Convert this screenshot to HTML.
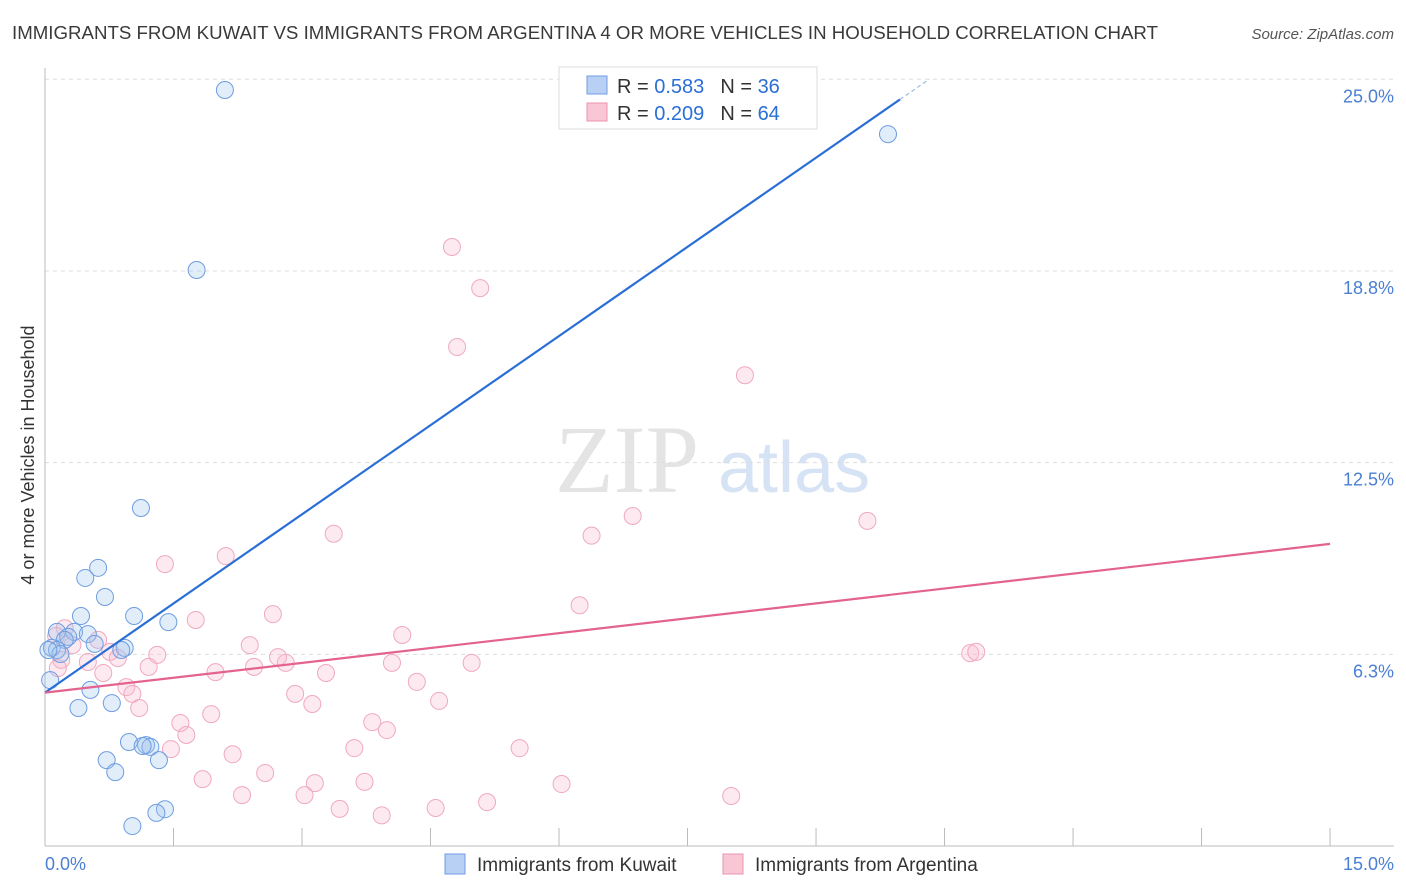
<!DOCTYPE html>
<html><head><meta charset="utf-8"><style>
body{margin:0;background:#fff;font-family:"Liberation Sans",sans-serif;}
</style></head><body>
<svg id="chart" width="1406" height="892" style="display:block">
<text x="12" y="39" font-size="18" fill="#3a3a3a" textLength="1146" lengthAdjust="spacingAndGlyphs">IMMIGRANTS FROM KUWAIT VS IMMIGRANTS FROM ARGENTINA 4 OR MORE VEHICLES IN HOUSEHOLD CORRELATION CHART</text>
<text x="1394" y="39" font-size="15" fill="#555" font-style="italic" text-anchor="end">Source: ZipAtlas.com</text>
<text x="555" y="492" font-size="96" fill="#e4e4e4" font-family="Liberation Serif">ZIP</text>
<text x="718" y="492" font-size="72" fill="#d6e3f5">atlas</text>
<g id="grid"></g>
<g id="axes"></g>
<g id="pts"></g>
<g id="lines"></g>
<text transform="translate(34,455) rotate(-90)" font-size="18" fill="#333" text-anchor="middle">4 or more Vehicles in Household</text>
<text x="45" y="870" font-size="18" fill="#4a7fd4">0.0%</text>
<text x="1394" y="870" font-size="18" fill="#4a7fd4" text-anchor="end">15.0%</text>
<g>
<rect x="559" y="67" width="258" height="62" fill="#fff" stroke="#ddd"/>
<rect x="587" y="76" width="20" height="18" fill="#b8d0f3" stroke="#6f9de0"/>
<rect x="587" y="103" width="20" height="18" fill="#f9c6d5" stroke="#ea94ad"/>
<text x="617" y="93" font-size="20" fill="#333">R = <tspan fill="#2a6fd6">0.583</tspan><tspan dx="16">N = </tspan><tspan fill="#2a6fd6">36</tspan></text>
<text x="617" y="120" font-size="20" fill="#333">R = <tspan fill="#2a6fd6">0.209</tspan><tspan dx="16">N = </tspan><tspan fill="#2a6fd6">64</tspan></text>
</g>
<g>
<rect x="445" y="854" width="20" height="20" fill="#b8d0f3" stroke="#6f9de0"/>
<text x="477" y="871" font-size="19" fill="#333">Immigrants from Kuwait</text>
<rect x="723" y="854" width="20" height="20" fill="#f9c6d5" stroke="#ea94ad"/>
<text x="755" y="871" font-size="19" fill="#333">Immigrants from Argentina</text>
</g>
</svg>
<script>
const yTicks=[6.25,12.5,18.75,25];
const yTickLabels=["6.3%","12.5%","18.8%","25.0%"];
const xTicks=[0,1.5,3,4.5,6,7.5,9,10.5,12,13.5,15];
const kuwaitX=[2.1,9.84,1.77,1.12,0.62,0.47,0.7,1.04,0.42,1.44,0.14,0.34,0.5,0.27,0.23,0.58,0.93,0.89,0.08,0.14,0.18,0.06,0.53,0.78,0.39,0.98,1.18,1.23,1.14,0.72,1.33,0.82,1.4,1.3,1.02,0.04];
const kuwaitY=[24.65,23.21,18.78,11.02,9.07,8.74,8.12,7.5,7.5,7.3,6.98,6.98,6.91,6.82,6.72,6.59,6.46,6.39,6.46,6.39,6.26,5.41,5.09,4.66,4.5,3.39,3.29,3.23,3.26,2.8,2.8,2.41,1.2,1.08,0.65,6.39];
const argX=[4.75,5.08,4.81,8.17,6.86,9.6,3.37,6.38,2.11,1.4,6.24,2.66,1.76,4.17,2.39,1.31,0.23,0.13,0.62,0.32,0.76,0.85,0.19,0.5,1.21,0.15,1.99,2.44,2.81,2.72,3.28,4.05,4.98,10.8,10.87,0.68,0.95,1.02,2.92,4.34,3.12,4.6,1.1,1.94,1.58,1.65,3.82,3.99,1.47,3.61,5.54,2.19,2.57,1.84,3.15,3.73,2.3,3.03,6.03,5.16,3.44,4.56,3.93,8.01];
const argY=[19.53,18.19,16.27,15.35,10.76,10.6,10.18,10.12,9.45,9.19,7.85,7.56,7.37,6.88,6.55,6.23,7.1,6.85,6.72,6.55,6.33,6.13,6.07,6.0,5.84,5.8,5.67,5.84,5.97,6.16,5.64,5.97,5.97,6.29,6.33,5.64,5.18,4.96,4.96,5.35,4.63,4.73,4.5,4.3,4.01,3.62,4.04,3.78,3.16,3.19,3.19,2.99,2.38,2.18,2.05,2.09,1.66,1.66,2.02,1.43,1.21,1.24,1.0,1.63];
const blueLine=[[0,5.0],[10.32,25]];
const pinkLine=[[0,5.0],[15,9.85]];
const X=v=>45+v*85.67, Y=v=>846-v*30.67;
const NS="http://www.w3.org/2000/svg";
function mk(t,a,p){const e=document.createElementNS(NS,t);for(const k in a)e.setAttribute(k,a[k]);document.getElementById(p).appendChild(e);return e;}
yTicks.forEach((v,i)=>{
 const l=mk('line',{x1:45,x2:1394,y1:Y(v),y2:Y(v),stroke:'#ddd','stroke-dasharray':'4,4'},'grid');
 
 
 const t=mk('text',{x:1394,y:Y(v)+23,'font-size':18,fill:'#4a7fd4','text-anchor':'end'},'grid');
 t.textContent=yTickLabels[i];
 
 
});
const ya=mk('line',{x1:45,x2:45,y1:68,y2:846,stroke:'#bbb'},'axes');


const xa=mk('line',{x1:45,x2:1394,y1:846,y2:846,stroke:'#bbb'},'axes');


xTicks.forEach(v=>{
 const l=mk('line',{x1:X(v),x2:X(v),y1:828,y2:846,stroke:'#bbb'},'axes');
 
 
});
argX.forEach((v,i)=>{
 const c=mk('circle',{cx:X(v),cy:Y(argY[i]),r:8.5,fill:'rgba(248,185,205,0.3)',stroke:'#f0a9bf','stroke-width':1},'pts');
 
 
});
kuwaitX.forEach((v,i)=>{
 const c=mk('circle',{cx:X(v),cy:Y(kuwaitY[i]),r:8.5,fill:'rgba(160,195,240,0.3)',stroke:'#6d9de0','stroke-width':1},'pts');
 
 
});
const bx=9.98, by=blueLine[0][1]+(blueLine[1][1]-blueLine[0][1])*bx/blueLine[1][0];
const bl=mk('line',{x1:X(blueLine[0][0]),y1:Y(blueLine[0][1]),x2:X(bx),y2:Y(by),stroke:'#2a6fd6','stroke-width':2.2},'lines');


const bd=mk('line',{x1:X(bx),y1:Y(by),x2:X(blueLine[1][0]),y2:Y(blueLine[1][1]),stroke:'#9bbbe8','stroke-width':1.2,'stroke-dasharray':'4,3'},'lines');


const pl=mk('line',{x1:X(pinkLine[0][0]),y1:Y(pinkLine[0][1]),x2:X(pinkLine[1][0]),y2:Y(pinkLine[1][1]),stroke:'#e3638e','stroke-width':2.2},'lines');


</script>
</body></html>
